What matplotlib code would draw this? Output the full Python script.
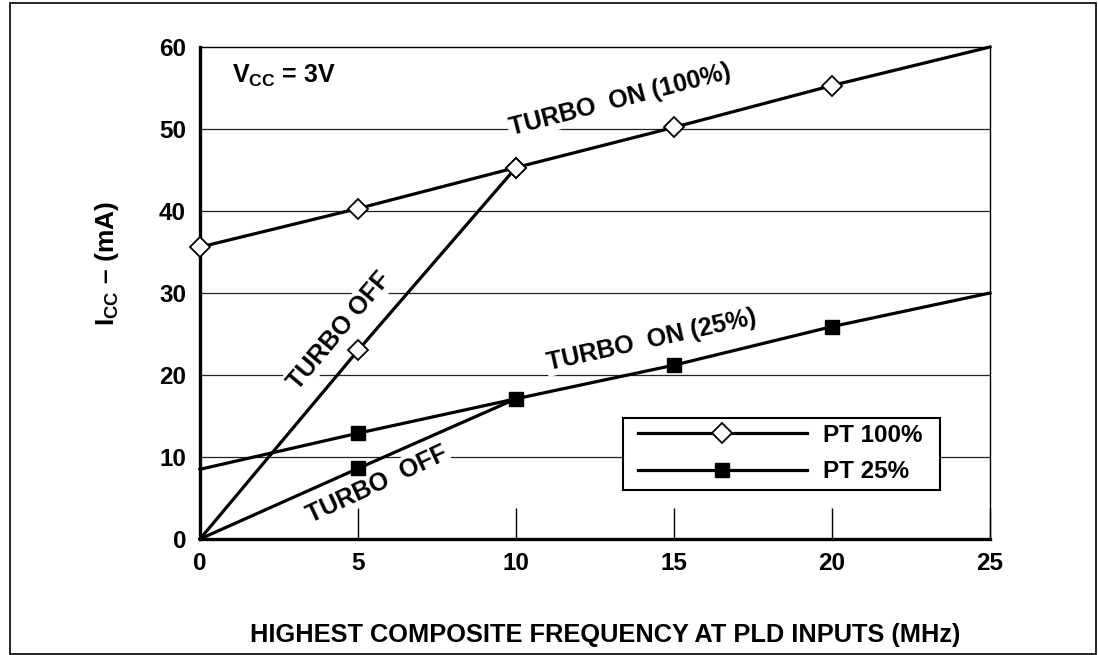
import matplotlib
matplotlib.use('Agg')
import matplotlib.pyplot as plt
from matplotlib.lines import Line2D
from matplotlib.patches import Rectangle

plt.rcParams['font.family'] = 'Liberation Sans'
plt.rcParams['font.weight'] = 'bold'
plt.rcParams['mathtext.fontset'] = 'custom'
plt.rcParams['mathtext.rm'] = 'Liberation Sans:bold'
plt.rcParams['mathtext.it'] = 'Liberation Sans:bold'
plt.rcParams['mathtext.bf'] = 'Liberation Sans:bold'

# ---- data ----
freq = [0, 5, 10, 15, 20, 25]
pt100_on = [35.6, 40.3, 45.3, 50.2, 55.3, 60]
pt25_on = [8.5, 12.9, 17.1, 21.2, 25.9, 30]

off_freq = [0, 5, 10]
pt100_off = [0, 23.0, 45.3]
pt25_off = [0, 8.6, 17.1]

x_ticks = [0, 5, 10, 15, 20, 25]
y_ticks = [0, 10, 20, 30, 40, 50, 60]
grid_levels = [10, 20, 30, 40, 50]

W, H = 1098, 655
fig = plt.figure(figsize=(W / 100, H / 100), dpi=100)
ax = fig.add_axes([200 / W, 1 - 539 / H, 790 / W, 492 / H])

# outer frame round the whole picture
fig.patches.append(Rectangle((10 / W, 1 / H), 1086 / W, 651 / H,
                             transform=fig.transFigure, fill=False,
                             lw=1.2, ec='black'))

for g in grid_levels:
    ax.axhline(g, color='#222222', lw=0.9, zorder=1)

line_kw = dict(color='black', lw=2.3, zorder=3, clip_on=False)
dia_kw = dict(marker='D', markersize=10.5, markerfacecolor='white',
              markeredgecolor='black', markeredgewidth=1.3)
sq_kw = dict(marker='s', markersize=10, markerfacecolor='black',
             markeredgecolor='black')

ax.plot(freq, pt100_on, markevery=[0, 1, 2, 3, 4], **line_kw, **dia_kw)
ax.plot(off_freq, pt100_off, markevery=[1, 2], **line_kw, **dia_kw)
ax.plot(freq, pt25_on, markevery=[1, 2, 3, 4], **line_kw, **sq_kw)
ax.plot(off_freq, pt25_off, markevery=[1], **line_kw, **sq_kw)

lbl_kw = dict(fontsize=18, fontweight='bold', ha='center', va='center',
              rotation_mode='anchor', zorder=2,
              bbox=dict(fc='white', ec='none', pad=1.5))
ax.text(13.3, 53.6, 'TURBO  ON (100%)', rotation=14.5, **lbl_kw)
ax.text(4.4, 25.4, 'TURBO OFF', rotation=50, **lbl_kw)
ax.text(14.3, 24.3, 'TURBO  ON (25%)', rotation=12.5, **lbl_kw)
ax.text(5.6, 6.7, 'TURBO  OFF', rotation=25, **lbl_kw)

ax.text(0.04, 0.927, r'$\mathrm{V_{CC}}$ = 3V', transform=ax.transAxes,
        fontsize=18, fontweight='bold', va='baseline', ha='left')

ax.set_xlim(0, 25)
ax.set_ylim(0, 60)
ax.set_xticks(x_ticks)
ax.set_yticks(y_ticks)
ax.tick_params(axis='x', direction='in', length=22, width=1.0, pad=9,
               labelsize=17.5)
ax.tick_params(axis='y', length=0, pad=10, labelsize=17.5)
for t in ax.get_xticklabels() + ax.get_yticklabels():
    t.set_fontweight('bold')

ax.spines['left'].set_linewidth(2.4)
ax.spines['bottom'].set_linewidth(2.4)
ax.spines['top'].set_linewidth(1.0)
ax.spines['right'].set_linewidth(1.0)

ax.set_xlabel('HIGHEST COMPOSITE FREQUENCY AT PLD INPUTS (MHz)',
              fontsize=18.3, fontweight='bold')
ax.xaxis.set_label_coords(0.513, -0.17)
ax.set_ylabel(r'$\mathrm{I_{CC}}$ – (mA)', fontsize=19, fontweight='bold')
ax.yaxis.set_label_coords(-0.1, 0.56)

# legend: box drawn separately so the side padding can be wider
fig.patches.append(Rectangle((623 / W, 1 - 490 / H), 317 / W, 72 / H,
                             transform=fig.transFigure, fc='white',
                             ec='black', lw=1.5, zorder=4))
handles = [
    Line2D([], [], color='black', lw=2.3, **dia_kw),
    Line2D([], [], color='black', lw=2.3, **sq_kw),
]
leg = fig.legend(handles, ['PT 100%', 'PT 25%'], loc='upper left',
                 bbox_to_anchor=(638 / W, 1 - 424 / H), borderaxespad=0,
                 prop=dict(size=17.5, weight='bold'), handlelength=6.95,
                 handletextpad=0.66, labelspacing=0.55, borderpad=0,
                 frameon=False)
leg.set_zorder(5)

fig.savefig('out.png', dpi=100)
